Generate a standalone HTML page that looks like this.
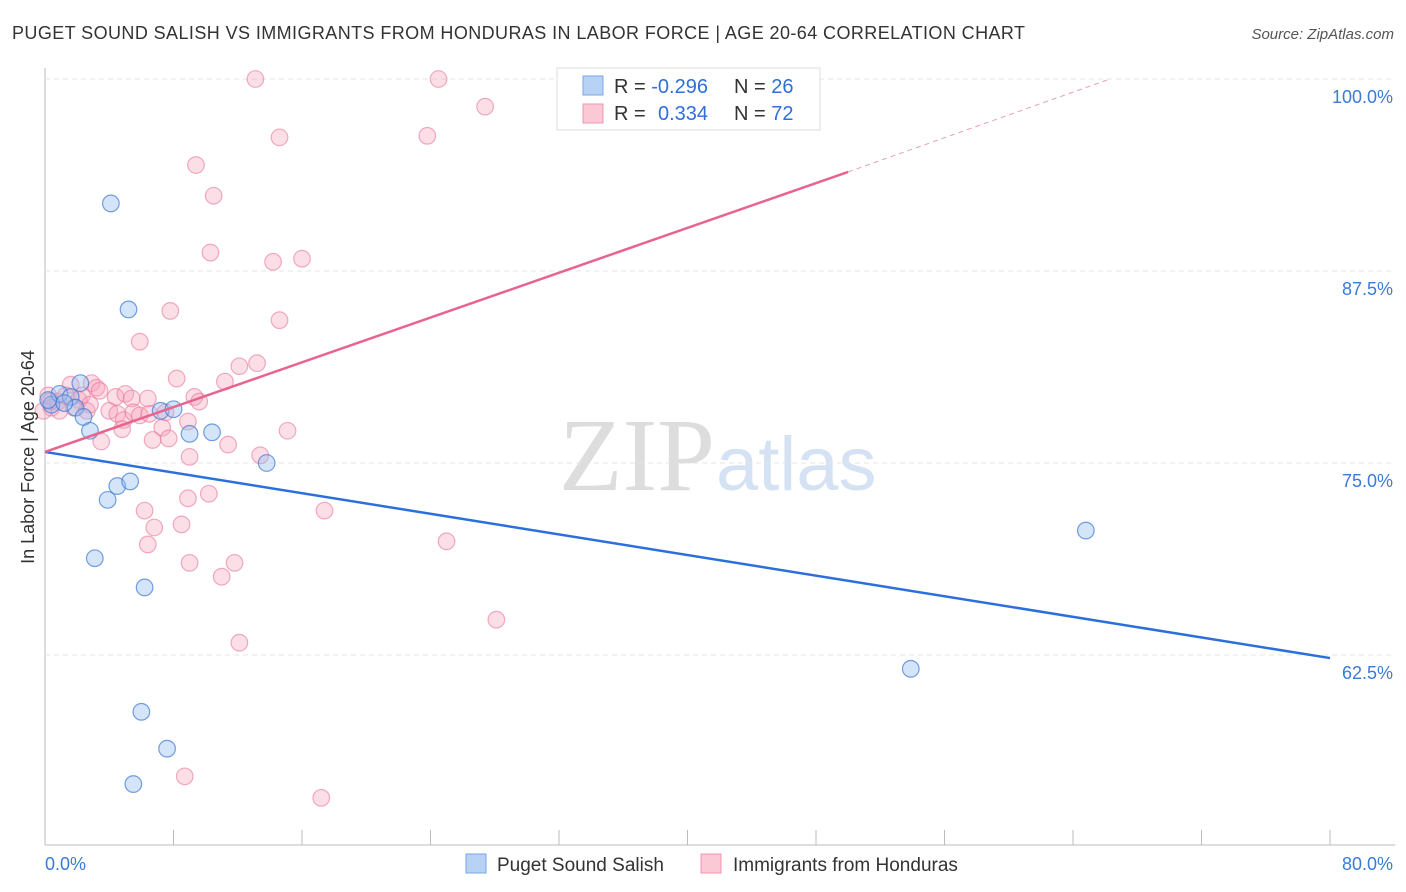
<!DOCTYPE html>
<html><head><meta charset="utf-8"><style>
body{margin:0;background:#fff;font-family:"Liberation Sans",sans-serif;}
#c{position:absolute;left:0;top:0;}
</style></head><body>
<svg id="c" width="1406" height="892">
<text x="12" y="39" font-size="18" fill="#333" textLength="1013" lengthAdjust="spacing">PUGET SOUND SALISH VS IMMIGRANTS FROM HONDURAS IN LABOR FORCE | AGE 20-64 CORRELATION CHART</text>
<text x="1394" y="39" font-size="15" fill="#555" text-anchor="end" font-style="italic">Source: ZipAtlas.com</text>
<text x="715" y="490" font-size="104" fill="#ddd" text-anchor="end" font-family="Liberation Serif">ZIP</text>
<text x="716" y="490" font-size="76" fill="#d4e2f4">atlas</text>
<g id="grid"></g><g id="marks"></g>
<text transform="translate(34,457) rotate(-90)" font-size="18" fill="#333" text-anchor="middle">In Labor Force | Age 20-64</text>
<g>
<rect x="557" y="68" width="263" height="62" fill="#fff" stroke="#ddd"/>
<rect x="583" y="76" width="20" height="19" fill="#b8d2f5" stroke="#7aa6e8"/>
<rect x="583" y="104" width="20" height="19" fill="#fbc8d6" stroke="#ef94ae"/>
<text x="614" y="93" font-size="20" fill="#333">R = <tspan fill="#2f6fd8">-0.296</tspan><tspan x="734">N = </tspan><tspan fill="#2f6fd8">26</tspan></text>
<text x="614" y="120" font-size="20" fill="#333">R = <tspan fill="#2f6fd8" x="658">0.334</tspan><tspan x="734">N = </tspan><tspan fill="#2f6fd8">72</tspan></text>
</g>
<g>
<rect x="466" y="854" width="20" height="19" fill="#b8d2f5" stroke="#7aa6e8"/>
<text x="497" y="871" font-size="19" fill="#333">Puget Sound Salish</text>
<rect x="701" y="854" width="20" height="19" fill="#fbc8d6" stroke="#ef94ae"/>
<text x="733" y="871" font-size="19" fill="#333">Immigrants from Honduras</text>
</g>
</svg>
<script>
const xTicks=[0,8,16,24,32,40,48,56,64,72,80];
const yTicks=[100,87.5,75,62.5];
const blueX=[4.1,5.2,2.2,0.4,0.9,1.6,1.9,2.4,2.8,7.2,8.0,9.0,10.4,13.8,4.5,5.3,3.9,3.1,6.2,6.0,7.6,5.5,64.8,53.9,0.2,1.2];
const blueY=[91.9,85.0,80.2,78.8,79.5,79.3,78.6,78.0,77.1,78.4,78.5,76.9,77.0,75.0,73.5,73.8,72.6,68.8,66.9,58.8,56.4,54.1,70.6,61.6,79.1,78.9];
const pinkX=[13.1,24.5,41.6,27.4,23.8,14.6,9.4,10.5,10.3,14.2,16.0,7.8,14.6,5.9,8.2,12.1,13.2,11.2,9.3,2.9,3.2,1.6,0.2,0.4,0.8,1.3,2.1,2.6,3.4,4.0,4.4,4.5,4.9,5.0,5.4,5.5,5.9,6.4,6.5,6.7,7.3,7.5,7.7,8.9,3.5,4.8,9.6,11.4,9.0,13.4,15.1,8.9,10.2,6.2,6.8,8.5,6.4,9.0,11.0,11.8,17.4,25.0,28.1,12.1,8.7,17.2,0.9,1.8,2.3,-0.1,0.3,2.8];
const pinkY=[100,100,99.9,98.2,96.3,96.2,94.4,92.4,88.7,88.1,88.3,84.9,84.3,82.9,80.5,81.3,81.5,80.3,79.3,80.2,79.9,80.1,79.4,78.6,79.0,79.4,79.1,78.4,79.7,78.4,79.3,78.2,77.8,79.5,79.2,78.3,78.1,79.2,78.2,76.5,77.3,78.3,76.6,77.7,76.4,77.2,79.0,76.2,75.4,75.5,77.1,72.7,73.0,71.9,70.8,71.0,69.7,68.5,67.6,68.5,71.9,69.9,64.8,63.3,54.6,53.2,78.4,78.6,79.4,78.4,79.0,78.8];
const sx=v=>45+v*1285/80, sy=v=>79+(100-v)*15.36;
const NS='http://www.w3.org/2000/svg';
function mk(t,a,p){const e=document.createElementNS(NS,t);for(const k in a)e.setAttribute(k,a[k]);p.appendChild(e);return e;}
const g=document.getElementById('grid'),m=document.getElementById('marks');
mk('line',{x1:45,y1:68,x2:45,y2:845,stroke:'#bbb'},g);
mk('line',{x1:45,y1:845,x2:1395,y2:845,stroke:'#bbb'},g);
xTicks.forEach(v=>{const l=mk('line',{x1:sx(v),y1:830,x2:sx(v),y2:845,stroke:'#bbb'},g);

});
[[0,'0.0%',45,'start'],[80,'80.0%',1393,'end']].forEach(([v,s,x,a])=>{const t=mk('text',{x:x,y:870,'font-size':18,fill:'#3a7bd5','text-anchor':a},g);t.textContent=s;

});
yTicks.forEach(v=>{const l=mk('line',{x1:45,y1:sy(v),x2:1395,y2:sy(v),stroke:'#e4e4e4','stroke-dasharray':'5,4'},g);


const t=mk('text',{x:1393,y:sy(v)+24,'font-size':18,fill:'#3a7bd5','text-anchor':'end'},g);t.textContent=v.toFixed(1)+'%';

});
pinkX.forEach((x,i)=>{const c=mk('circle',{cx:sx(x),cy:sy(pinkY[i]),r:8.3,fill:'rgba(247,160,185,0.35)',stroke:'rgba(232,120,155,0.6)','stroke-width':1.2},m);

});
blueX.forEach((x,i)=>{const c=mk('circle',{cx:sx(x),cy:sy(blueY[i]),r:8.3,fill:'rgba(150,190,240,0.4)',stroke:'rgba(60,120,210,0.7)','stroke-width':1.2},m);

});
const bl=mk('line',{x1:sx(0),y1:sy(75.72),x2:sx(80),y2:sy(62.3),stroke:'#2a6fdb','stroke-width':2.5},m);


const pl=mk('line',{x1:sx(0),y1:sy(75.72),x2:sx(50),y2:sy(93.95),stroke:'#e8648f','stroke-width':2.5},m);


const pd=mk('line',{x1:sx(50),y1:sy(93.95),x2:sx(66.3),y2:sy(100),stroke:'#e8a0b5','stroke-width':1,'stroke-dasharray':'5,4'},m);


</script>
</body></html>
